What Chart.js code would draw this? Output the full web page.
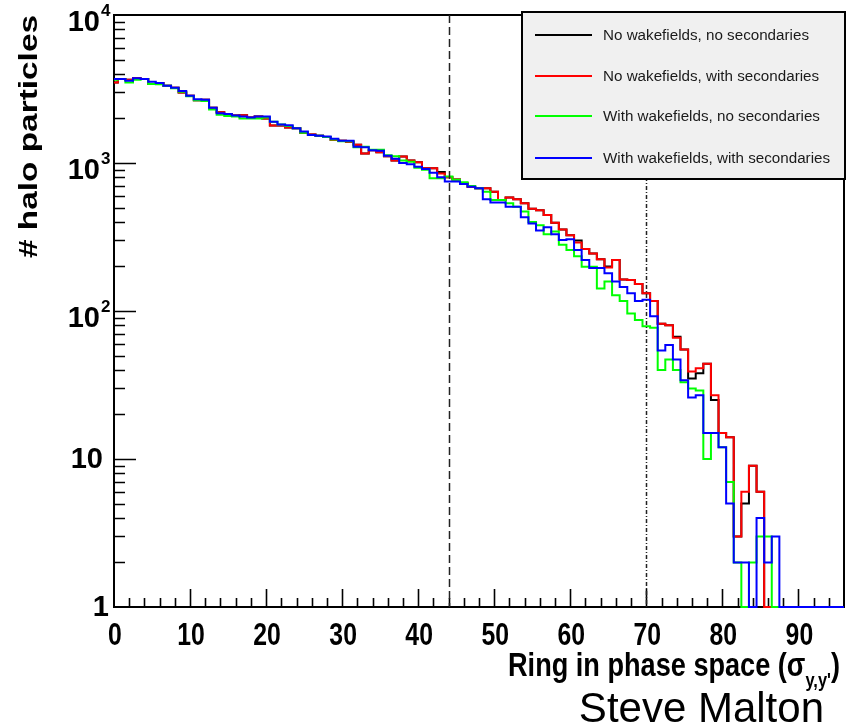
<!DOCTYPE html>
<html>
<head>
<meta charset="utf-8">
<script src="https://cdn.jsdelivr.net/npm/chart.js@4.4.1/dist/chart.umd.min.js"></script>
<style>
  html, body { margin: 0; padding: 0; background: #ffffff; }
  #wrap { position: relative; width: 858px; height: 726px; }
  canvas { display: block; }
</style>
</head>
<body>
<div id="wrap"><canvas id="halo" width="858" height="726"></canvas></div>
<script>
// Ring index in phase space (bin centres, one unit wide)
const rings = [
  0,1,2,3,4,5,6,7,8,9,10,11,12,13,14,15,16,17,18,19,
  20,21,22,23,24,25,26,27,28,29,30,31,32,33,34,35,36,37,38,39,
  40,41,42,43,44,45,46,47,48,49,50,51,52,53,54,55,56,57,58,59,
  60,61,62,63,64,65,66,67,68,69,70,71,72,73,74,75,76,77,78,79,
  80,81,82,83,84,85,86,87,88,89,90,91,92,93,94,95,96
];

// Halo particle counts per ring
const noWakeNoSec = [
  3500,3700,3650,3740,3700,3420,3470,3330,3230,3000,
  2850,2650,2680,2360,2200,2140,2090,2100,2030,2060,
  2000,1790,1790,1740,1715,1600,1560,1530,1500,1430,
  1415,1390,1330,1160,1220,1180,1110,1040,1105,1040,
  1010,920,920,870,800,775,730,692,675,675,
  640,562,585,570,535,490,480,445,395,355,
  325,300,262,245,224,200,221,163,162,152,
  132,117,82,80,67,55,35,38,44,25,
  15,14,3,5,9,6,0,0,0,0,
  0,0,0,0,0,0,0
];
const noWakeWithSec = [
  3500,3700,3650,3740,3700,3420,3470,3330,3230,3000,
  2850,2650,2680,2360,2200,2140,2090,2100,2030,2060,
  2000,1790,1790,1740,1715,1600,1560,1530,1500,1430,
  1415,1390,1330,1160,1220,1180,1110,1040,1105,1040,
  1010,920,920,850,800,775,730,692,675,675,
  640,562,585,570,535,490,480,445,395,355,
  325,290,262,245,224,197,221,163,162,152,
  132,117,82,80,66,55,39,41,44,27,
  15,14,3,6,9,6,0,0,0,0,
  0,0,0,0,0,0,0
];
const wakeNoSec = [
  3650,3700,3500,3650,3700,3420,3400,3330,3200,3030,
  2820,2650,2620,2300,2120,2080,2060,2000,2000,2000,
  2030,1900,1820,1780,1715,1600,1545,1530,1500,1440,
  1400,1400,1280,1290,1230,1230,1130,1110,1040,1020,
  930,900,790,790,810,770,740,700,675,640,
  562,562,535,507,470,400,380,330,345,280,
  258,234,199,199,142,158,128,117,96,87,
  79,77,40,47,40,33,30,29,10,15,
  12,7,2,0,2,3,3,0,0,0,
  0,0,0,0,0,0,0
];
const wakeWithSec = [
  3700,3700,3600,3740,3700,3540,3470,3330,3230,3060,
  2850,2700,2680,2360,2170,2140,2090,2060,2030,2060,
  2060,1900,1820,1800,1715,1630,1545,1530,1510,1460,
  1415,1415,1290,1280,1220,1210,1120,1070,1000,980,
  944,910,860,800,750,750,720,692,675,570,
  540,540,507,507,430,390,350,368,330,302,
  305,258,221,195,195,180,158,145,132,117,
  119,92,54,59,47,34,26,27,15,15,
  12,5,2,2,0,4,2,3,0,0,
  0,0,0,0,0,0,0
];

const seriesLabels = [
  'No wakefields, no secondaries',
  'No wakefields, with secondaries',
  'With wakefields, no secondaries',
  'With wakefields, with secondaries'
];
const seriesValues = [noWakeNoSec, noWakeWithSec, wakeNoSec, wakeWithSec];
const seriesColors = ['#000000', '#ff0000', '#00ff00', '#0000ff'];

// Axis labelling
const xTickLabels = [0, 10, 20, 30, 40, 50, 60, 70, 80, 90];
const yDecades = [1, 10, 100, 1000, 10000];
const cutRings = [44, 70];

// Empty rings sit on the floor of the log axis
const LOG_FLOOR = 1;

const BOLD = "'Liberation Sans', Arial, Helvetica, sans-serif";

// Draws text squeezed or stretched along its own direction.
function stretchedText(ctx, text, x, y, font, sx, align, baseline) {
  ctx.save();
  ctx.font = font;
  ctx.textAlign = align;
  ctx.textBaseline = baseline;
  ctx.translate(x, y);
  ctx.scale(sx, 1);
  ctx.fillText(text, 0, 0);
  ctx.restore();
}

// ROOT-like frame, inner ticks, cut markers, titles and legend box
const rootFrame = {
  id: 'rootFrame',
  beforeDatasetsDraw(chart) {
    const { ctx, chartArea: a, scales: { x, y } } = chart;
    ctx.save();
    ctx.strokeStyle = '#000';
    ctx.lineWidth = 2;
    ctx.strokeRect(a.left, a.top, a.right - a.left, a.bottom - a.top);

    ctx.lineWidth = 1.6;
    ctx.beginPath();
    x.ticks.forEach(t => {
      const v = t.value;
      if (v <= 0 || v >= x.max) return;
      const px = Math.round(x.getPixelForValue(v)) + 0.5;
      const len = v % 10 === 0 ? 18 : 9;
      ctx.moveTo(px, a.bottom);
      ctx.lineTo(px, a.bottom - len);
    });
    yDecades.forEach((d, i) => {
      const py = Math.round(y.getPixelForValue(d)) + 0.5;
      if (d > y.min && d < y.max) {
        ctx.moveTo(a.left, py);
        ctx.lineTo(a.left + 22, py);
      }
      if (i < yDecades.length - 1) {
        for (let m = 2; m <= 9; m++) {
          const pm = Math.round(y.getPixelForValue(m * d)) + 0.5;
          ctx.moveTo(a.left, pm);
          ctx.lineTo(a.left + 11, pm);
        }
      }
    });
    ctx.stroke();
    ctx.restore();
  },
  afterDatasetsDraw(chart) {
    const { ctx, chartArea: a, scales: { x, y } } = chart;
    ctx.save();

    // vertical cut markers
    const dashes = [[8, 4], [4, 2, 1, 2]];
    cutRings.forEach((r, i) => {
      const px = Math.round(x.getPixelForValue(r)) + 0.5;
      ctx.strokeStyle = '#222';
      ctx.lineWidth = 1.5;
      ctx.setLineDash(dashes[i]);
      ctx.beginPath();
      ctx.moveTo(px, a.top);
      ctx.lineTo(px, a.bottom);
      ctx.stroke();
    });
    ctx.setLineDash([]);

    // x labels (condensed bold)
    ctx.fillStyle = '#000';
    xTickLabels.forEach(v => {
      const px = x.getPixelForValue(v);
      stretchedText(ctx, String(v), px + 1, 645, 'bold 31px ' + BOLD, 0.8, 'center', 'alphabetic');
    });

    // y labels: 1, 10, 10^n
    yDecades.forEach(d => {
      const py = y.getPixelForValue(d);
      const exp = Math.round(Math.log10(d));
      if (exp === 0) {
        stretchedText(ctx, '1', 109, py + 1, 'bold 29px ' + BOLD, 1.0, 'right', 'middle');
      } else if (exp === 1) {
        stretchedText(ctx, '10', 103, py + 1, 'bold 29px ' + BOLD, 1.0, 'right', 'middle');
      } else {
        stretchedText(ctx, '10', 100, py + 8, 'bold 29px ' + BOLD, 1.0, 'right', 'middle');
        stretchedText(ctx, String(exp), 101, py - 4, 'bold 17px ' + BOLD, 1.0, 'left', 'middle');
      }
    });

    // y title (reads upwards, ends at the top of the frame)
    ctx.save();
    ctx.translate(37, 15);
    ctx.rotate(-Math.PI / 2);
    ctx.font = 'bold 25px ' + BOLD;
    const yt = '# halo particles';
    const ysx = 243 / ctx.measureText(yt).width;
    stretchedText(ctx, yt, 0, 0, 'bold 25px ' + BOLD, ysx, 'right', 'alphabetic');
    ctx.restore();

    // x title with subscript, right aligned to the frame
    const mainFont = 'bold 33px ' + BOLD;
    const subFont = 'bold 20px ' + BOLD;
    const parts = [
      { t: 'Ring in phase space (\u03c3', f: mainFont, dy: 0 },
      { t: "y,y'", f: subFont, dy: 11 },
      { t: ')', f: mainFont, dy: 0 }
    ];
    let total = 0;
    parts.forEach(p => { ctx.font = p.f; p.w = ctx.measureText(p.t).width; total += p.w; });
    const xsx = 332 / total;
    let cx = 840 - total * xsx;
    parts.forEach(p => {
      stretchedText(ctx, p.t, cx, 676 + p.dy, p.f, xsx, 'left', 'alphabetic');
      cx += p.w * xsx;
    });

    // legend box
    const lx = 522, ly = 12, lw = 323, lh = 167;
    ctx.fillStyle = '#f0f0f0';
    ctx.fillRect(lx, ly, lw, lh);
    ctx.strokeStyle = '#000';
    ctx.lineWidth = 2;
    ctx.strokeRect(lx, ly, lw, lh);
    const rowY = [35, 76, 116, 158];
    chart.data.datasets.forEach((ds, i) => {
      ctx.strokeStyle = ds.borderColor;
      ctx.lineWidth = 2;
      ctx.beginPath();
      ctx.moveTo(535, rowY[i]);
      ctx.lineTo(592, rowY[i]);
      ctx.stroke();
      ctx.fillStyle = '#1a1a1a';
      ctx.font = "15.2px 'Liberation Sans', Arial, sans-serif";
      ctx.textAlign = 'left';
      ctx.textBaseline = 'middle';
      ctx.fillText(ds.label, 603, rowY[i] + 1);
    });

    // credit line
    ctx.fillStyle = '#000';
    ctx.font = "42px 'Liberation Sans', Arial, sans-serif";
    ctx.textAlign = 'right';
    ctx.textBaseline = 'alphabetic';
    ctx.fillText('Steve Malton', 824, 722);

    ctx.restore();
  }
};

new Chart(document.getElementById('halo'), {
  type: 'line',
  data: {
    datasets: seriesValues.map((vals, i) => ({
      label: seriesLabels[i],
      data: rings.map((r, j) => ({ x: r, y: vals[j] > 0 ? vals[j] : LOG_FLOOR })),
      borderColor: seriesColors[i],
      backgroundColor: seriesColors[i],
      borderWidth: 2,
      stepped: 'middle',
      pointRadius: 0,
      fill: false,
      clip: 2,
      order: seriesValues.length - 1 - i
    }))
  },
  options: {
    responsive: false,
    animation: false,
    devicePixelRatio: 1,
    layout: { padding: { top: 15, right: 14, left: 0, bottom: 0 } },
    plugins: { legend: { display: false }, tooltip: { enabled: false } },
    scales: {
      x: {
        type: 'linear', min: 0, max: 96,
        grid: { display: false, drawTicks: false },
        border: { display: false },
        ticks: { stepSize: 2, autoSkip: false, display: false },
        afterFit: s => { s.height = 119; }
      },
      y: {
        type: 'logarithmic', min: 1, max: 10000,
        grid: { display: false, drawTicks: false },
        border: { display: false },
        ticks: { display: false },
        afterFit: s => { s.width = 114; }
      }
    }
  },
  plugins: [rootFrame]
});
</script>
</body>
</html>
